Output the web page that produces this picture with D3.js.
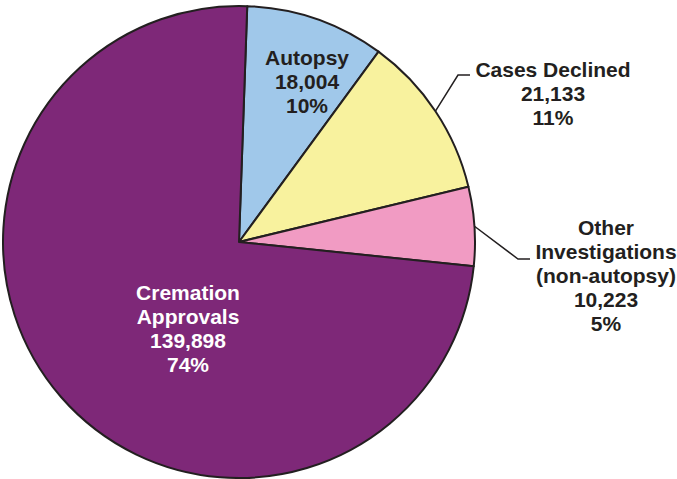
<!DOCTYPE html>
<html>
<head>
<meta charset="utf-8">
<script src="https://d3js.org/d3.v7.min.js"></script>
<style>
  body { margin: 0; background: #fff; }
  text { font-family: "Liberation Sans", Arial, sans-serif; font-weight: bold; font-size: 21px; }
</style>
</head>
<body>
<svg id="chart"></svg>
<script>
var width = 677;
var height = 479;
var cx = 239;
var cy = 242;
var radius = 236;

var categories = ["Autopsy", "Cases Declined", "Other Investigations (non-autopsy)", "Cremation Approvals"];
var values = [18004, 21133, 10223, 139898];
var colors = ["#a0c8ea", "#f8f29e", "#f19bc3", "#7e2878"];
// label lines per slice (name part), value and percent are added below
var labelNames = [["Autopsy"], ["Cases Declined"], ["Other", "Investigations", "(non-autopsy)"], ["Cremation", "Approvals"]];

var svg = d3.select("#chart")
  .attr("width", width)
  .attr("height", height);

var startAngle = 2 * Math.PI / 180;
var pie = d3.pie()
  .sort(null)
  .startAngle(startAngle)
  .endAngle(startAngle + 2 * Math.PI);

var arc = d3.arc()
  .innerRadius(0)
  .outerRadius(radius);

var arcs = pie(values);
var total = d3.sum(values);
var fmtNum = d3.format(",");
var fmtPct = d3.format(".0%");

var g = svg.append("g")
  .attr("transform", "translate(" + cx + "," + cy + ")");

g.selectAll("path")
  .data(arcs)
  .enter()
  .append("path")
  .attr("d", arc)
  .attr("fill", function(d, i) { return colors[i]; })
  .attr("stroke", "#231f20")
  .attr("stroke-width", 2)
  .attr("stroke-linejoin", "round");

// label placement (x = centre of text block, y = first baseline)
var labelPos = [
  { x: 307, y: 65, fill: "#231f20" },
  { x: 553, y: 77, fill: "#231f20" },
  { x: 606, y: 235, fill: "#231f20" },
  { x: 188, y: 300, fill: "#ffffff" }
];
var lineGap = 24;

// leader lines for the outside labels: elbow and end point
var leaders = [
  null,
  { ex: 458, ey: 75, tx: 470 },
  { ex: 518, ey: 259, tx: 530 },
  null
];

arcs.forEach(function(d, i) {
  var lines = labelNames[i].concat([fmtNum(values[i]), fmtPct(values[i] / total)]);
  var t = svg.append("text")
    .attr("text-anchor", "middle")
    .attr("fill", labelPos[i].fill);
  lines.forEach(function(s, j) {
    t.append("tspan")
      .attr("x", labelPos[i].x)
      .attr("y", labelPos[i].y + j * lineGap)
      .text(s);
  });

  var L = leaders[i];
  if (L) {
    var mid = (d.startAngle + d.endAngle) / 2;
    var px = cx + radius * Math.sin(mid);
    var py = cy - radius * Math.cos(mid);
    svg.append("polyline")
      .attr("points", [[px, py], [L.ex, L.ey], [L.tx, L.ey]].join(" "))
      .attr("fill", "none")
      .attr("stroke", "#231f20")
      .attr("stroke-width", 1.5);
  }
});
</script>
</body>
</html>
